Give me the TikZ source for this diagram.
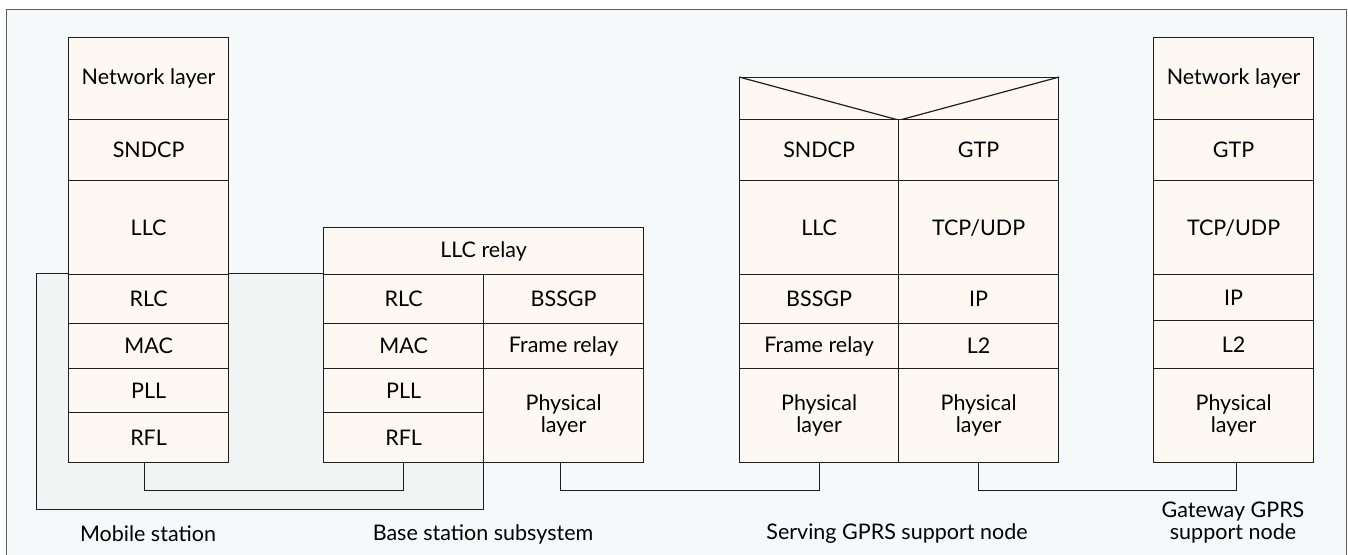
\documentclass[tikz,border=0pt]{standalone}
\usepackage{fontspec}
\setmainfont{Lato}
\definecolor{framebg}{HTML}{F5F9FA}
\definecolor{cellbg}{HTML}{FDF8F2}
\definecolor{shade}{HTML}{F0F4F3}
\definecolor{ink}{HTML}{1E1E1E}
\definecolor{framecol}{HTML}{606060}
\begin{document}
\begin{tikzpicture}[x=1pt,y=-1pt,
  cell/.style={draw=ink, fill=cellbg, line width=1.2pt, inner sep=0pt, anchor=north west,
    font=\fontsize{21.5}{22}\selectfont, align=center},
  link/.style={draw=ink, line width=1.2pt},
  caption/.style={font=\fontsize{21.5}{22}\selectfont, align=center, inner sep=0pt}]
\useasboundingbox (0,0) rectangle (1348,554);
% outer frame
\fill[white] (0,0) rectangle (1348,554);
\draw[framecol, fill=framebg, line width=1pt] (6,570) -- (6,9) -- (1346,9) -- (1346,570);
% shaded region MS + BSS
\draw[ink, fill=shade, line width=1pt] (36,273) rectangle (483,509);
% ---- Mobile station
\node[cell, minimum width=160pt, minimum height=82pt] (msnet) at (68,37) {Network layer};
\node[cell, minimum width=160pt, minimum height=61pt] (mssndcp) at (68,119) {SNDCP};
\node[cell, minimum width=160pt, minimum height=94pt] (msllc) at (68,180) {LLC};
\node[cell, minimum width=160pt, minimum height=49pt] (msrlc) at (68,274) {RLC};
\node[cell, minimum width=160pt, minimum height=45pt] (msmac) at (68,323) {MAC};
\node[cell, minimum width=160pt, minimum height=44pt] (mspll) at (68,368) {PLL};
\node[cell, minimum width=160pt, minimum height=50pt] (msrfl) at (68,412) {RFL};
% ---- Base station subsystem
\node[cell, minimum width=320pt, minimum height=47pt] (bssllc) at (323,227) {LLC relay};
\node[cell, minimum width=160pt, minimum height=49pt] (bssrlc) at (323,274) {RLC};
\node[cell, minimum width=160pt, minimum height=45pt] (bssmac) at (323,323) {MAC};
\node[cell, minimum width=160pt, minimum height=44pt] (bsspll) at (323,368) {PLL};
\node[cell, minimum width=160pt, minimum height=50pt] (bssrfl) at (323,412) {RFL};
\node[cell, minimum width=160pt, minimum height=49pt] (bssbssgp) at (483,274) {BSSGP};
\node[cell, minimum width=160pt, minimum height=45pt] (bssfr) at (483,323) {Frame relay};
\node[cell, minimum width=160pt, minimum height=94pt] (bssphy) at (483,368) {Physical\\layer};
% ---- SGSN
\node[cell, minimum width=319pt, minimum height=42pt] (sgtop) at (739,77) {};
\draw[link] (sgtop.north west) -- (sgtop.south) -- (sgtop.north east);
\node[cell, minimum width=159pt, minimum height=61pt] (sgsndcp) at (739,119) {SNDCP};
\node[cell, minimum width=159pt, minimum height=94pt] (sgllc) at (739,180) {LLC};
\node[cell, minimum width=159pt, minimum height=49pt] (sgbssgp) at (739,274) {BSSGP};
\node[cell, minimum width=159pt, minimum height=45pt] (sgfr) at (739,323) {Frame relay};
\node[cell, minimum width=159pt, minimum height=94pt] (sgphya) at (739,368) {Physical\\layer};
\node[cell, minimum width=160pt, minimum height=61pt] (sggtp) at (898,119) {GTP};
\node[cell, minimum width=160pt, minimum height=94pt] (sgtcp) at (898,180) {TCP/UDP};
\node[cell, minimum width=160pt, minimum height=49pt] (sgip) at (898,274) {IP};
\node[cell, minimum width=160pt, minimum height=45pt] (sgl2) at (898,323) {L2};
\node[cell, minimum width=160pt, minimum height=94pt] (sgphyb) at (898,368) {Physical\\layer};
% ---- GGSN
\node[cell, minimum width=160pt, minimum height=82pt] (ggnet) at (1153,37) {Network layer};
\node[cell, minimum width=160pt, minimum height=61pt] (gggtp) at (1153,119) {GTP};
\node[cell, minimum width=160pt, minimum height=94pt] (ggtcp) at (1153,180) {TCP/UDP};
\node[cell, minimum width=160pt, minimum height=46pt] (ggip) at (1153,274) {IP};
\node[cell, minimum width=160pt, minimum height=48pt] (ggl2) at (1153,320) {L2};
\node[cell, minimum width=160pt, minimum height=94pt] (ggphy) at (1153,368) {Physical\\layer};
% ---- connectors
\draw[link] ([xshift=-4pt]msrfl.south) -- ++(0,27) -| (bssrfl.south);
\draw[link] ([xshift=-3pt]bssphy.south) -- ++(0,27) -| (sgphya.south);
\draw[link] (sgphyb.south) -- ++(0,27) -| ([xshift=3pt]ggphy.south);
% ---- captions
\node[caption] (capms) at (148,534) {Mobile station};
\node[caption] (capbss) at (483,534) {Base station subsystem};
\node[caption] (capsg) at (897,534) {Serving GPRS support node};
\node[caption] (capgg) at (1233,523) {Gateway GPRS\\support node};
\end{tikzpicture}
\end{document}
